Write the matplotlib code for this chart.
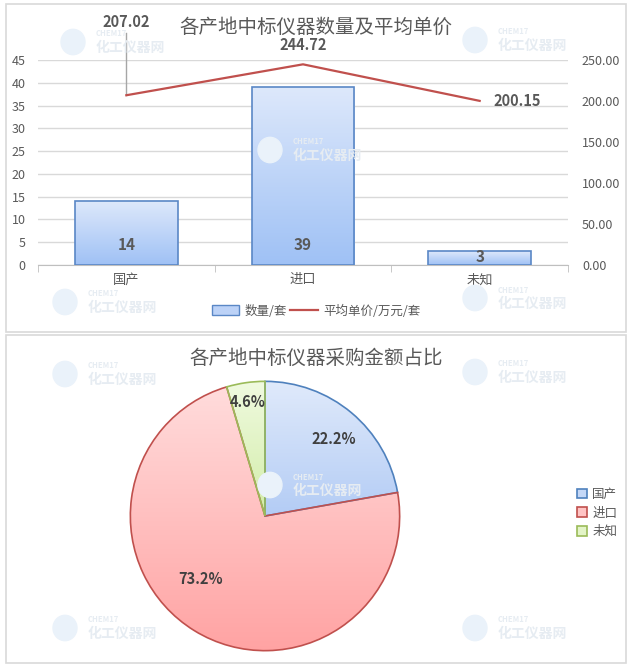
import numpy as np
import matplotlib
matplotlib.use('Agg')
import matplotlib.pyplot as plt
from matplotlib.patches import Rectangle, Patch
from matplotlib.lines import Line2D
from matplotlib.colors import LinearSegmentedColormap

plt.rcParams['font.family'] = ['Noto Sans CJK SC', 'DejaVu Sans']

# data
origins = ['国产', '进口', '未知']
counts = [14, 39, 3]
avg_price = [207.02, 244.72, 200.15]
amount_share = [22.2, 73.2, 4.6]

left_ticks = list(range(0, 50, 5))
right_ticks = [0, 50, 100, 150, 200, 250]

TXT = '#595959'
GRID = '#D9D9D9'
W, H = 633, 669


def fx(px):
    return px / W


def fy(py):
    return 1 - py / H


def gradient_fill(ax, patch, c_top, c_bot, extent=None):
    # vertical gradient clipped to a patch
    cmap = LinearSegmentedColormap.from_list('g', [c_bot, c_top])
    if extent is None:
        bb = patch.get_extents().transformed(ax.transData.inverted())
        extent = [bb.x0, bb.x1, bb.y0, bb.y1]
    grad = np.linspace(0, 1, 256).reshape(-1, 1)
    im = ax.imshow(grad, cmap=cmap, extent=extent, origin='lower',
                   aspect='auto', zorder=patch.get_zorder() - 0.1)
    im.set_clip_path(patch)
    return im


fig = plt.figure(figsize=(W / 100, H / 100), dpi=100)

# panel borders
for y0, y1 in [(4, 332), (335, 663)]:
    fig.patches.append(Rectangle((fx(6), fy(y1)), fx(620), (y1 - y0) / H,
                                 transform=fig.transFigure, fill=False,
                                 edgecolor=GRID, lw=1.2))

# watermarks
wm = [(118, 42), (520, 40), (315, 150), (110, 302), (520, 298),
      (110, 374), (520, 372), (315, 485), (110, 628), (520, 628)]
for x, y in wm:
    fig.text(fx(x - 22), fy(y - 8), 'CHEM17', fontsize=5.5, color='#E6ECF2',
             ha='left', va='center', fontweight='bold')
    fig.text(fx(x + 12), fy(y + 6), '化工仪器网', fontsize=10, color='#E6ECF2',
             ha='center', va='center', fontweight='bold')
    fig.patches.append(plt.Circle((fx(x - 45), fy(y)), 12 / W,
                                  transform=fig.transFigure,
                                  color='#EAF2FA', zorder=0))

# ---- top chart: bars + line
ax = fig.add_axes([fx(38), fy(265), fx(530), (265 - 60) / H])
x = np.arange(len(origins))
bars = ax.bar(x, counts, width=0.58, facecolor='none', edgecolor='#5A87C6',
              lw=1.2, zorder=3)
for b in bars:
    gradient_fill(ax, b, '#DDE8FB', '#9FC1F5')
ax.set_xlim(-0.5, 2.5)
ax.set_ylim(0, 45)
ax.set_yticks(left_ticks)
ax.yaxis.grid(True, color=GRID, lw=1)
ax.set_axisbelow(True)
for s in ['top', 'right', 'left']:
    ax.spines[s].set_visible(False)
ax.spines['bottom'].set_color('#BFBFBF')
ax.tick_params(axis='y', length=0, labelsize=9, colors=TXT, pad=9)
ax.set_xticks(x)
ax.set_xticklabels(origins, fontsize=9.5, color=TXT)
ax.tick_params(axis='x', which='major', length=0, pad=6)
ax.set_xticks([-0.5, 0.5, 1.5, 2.5], minor=True)
ax.tick_params(axis='x', which='minor', length=5, color='#BFBFBF')

for xi, c in zip(x, counts):
    ypos = 4.4 if c > 8 else 1.8
    ax.text(xi, ypos, str(c), ha='center', va='center', fontsize=11,
            fontweight='bold', color=TXT, zorder=5)

ax2 = ax.twinx()
ax2.set_ylim(0, 250)
ax2.set_yticks(right_ticks)
ax2.set_yticklabels(['%.2f' % v for v in right_ticks])
ax2.tick_params(axis='y', length=0, labelsize=9, colors=TXT, pad=10)
for s in ax2.spines.values():
    s.set_visible(False)
ax2.plot(x, avg_price, color='#C0504D', lw=1.6, zorder=4)

# price labels
ax2.plot([x[0], x[0]], [avg_price[0], 283], color='#A6A6A6', lw=1,
         clip_on=False)
ax2.text(x[0], 296, '%.2f' % avg_price[0], ha='center', va='center',
         fontsize=10.5, fontweight='bold', color=TXT, clip_on=False)
ax2.text(x[1], 268, '%.2f' % avg_price[1], ha='center', va='center',
         fontsize=10.5, fontweight='bold', color=TXT, clip_on=False)
ax2.text(x[2] + 0.08, 200, '%.2f' % avg_price[2], ha='left', va='center',
         fontsize=10.5, fontweight='bold', color=TXT, clip_on=False)

fig.text(fx(316), fy(27), '各产地中标仪器数量及平均单价', ha='center',
         va='center', fontsize=14, color=TXT)

handles = [Patch(facecolor='#BCD2F7', edgecolor='#5A87C6', lw=1),
           Line2D([0], [0], color='#C0504D', lw=1.6)]
fig.legend(handles, ['数量/套', '平均单价/万元/套'], loc='center',
           bbox_to_anchor=(fx(316), fy(311)), ncol=2, frameon=False,
           fontsize=9, labelcolor=TXT, handlelength=2.2, handleheight=0.9,
           columnspacing=0.3, handletextpad=0.4)

# ---- bottom chart: pie
axp = fig.add_axes([fx(129), fy(652), fx(272), 272 / H])
colors_top = ['#E0EAFB', '#FFDCDC', '#F0FAE0']
colors_bot = ['#B3CCF5', '#FFA3A3', '#D2EDA8']
edges = ['#4F81BD', '#C0504D', '#9BBB59']
wedges, _ = axp.pie(amount_share, startangle=90, counterclock=False,
                    colors=['none'] * 3, radius=1,
                    wedgeprops=dict(lw=1.2))
for w, ec, ct, cb in zip(wedges, edges, colors_top, colors_bot):
    w.set_edgecolor(ec)
    w.set_zorder(3)
    gradient_fill(axp, w, ct, cb)
axp.set_xlim(-1.01, 1.01)
axp.set_ylim(-1.01, 1.01)
axp.set_aspect('equal')
axp.axis('off')

label_pos = [(0.51, 0.57), (-0.48, -0.47), (-0.125, 0.85)]
for (lx, ly), v in zip(label_pos, amount_share):
    axp.text(lx, ly, '%.1f%%' % v, ha='center', va='center', fontsize=10.5,
             fontweight='bold', color='#404040', zorder=5)

fig.text(fx(316), fy(358), '各产地中标仪器采购金额占比', ha='center',
         va='center', fontsize=14, color=TXT)

pie_handles = [Patch(facecolor=ct, edgecolor=ec, lw=1.2)
               for ct, ec in zip(['#C5D8F7', '#FFC4C4', '#E3F4C7'], edges)]
fig.legend(pie_handles, origins, loc='center left',
           bbox_to_anchor=(fx(566), fy(513)), frameon=False, fontsize=9,
           labelcolor=TXT, handlelength=0.8, handleheight=0.8,
           handletextpad=0.4, labelspacing=0.45)

fig.savefig('out.png', dpi=100)
